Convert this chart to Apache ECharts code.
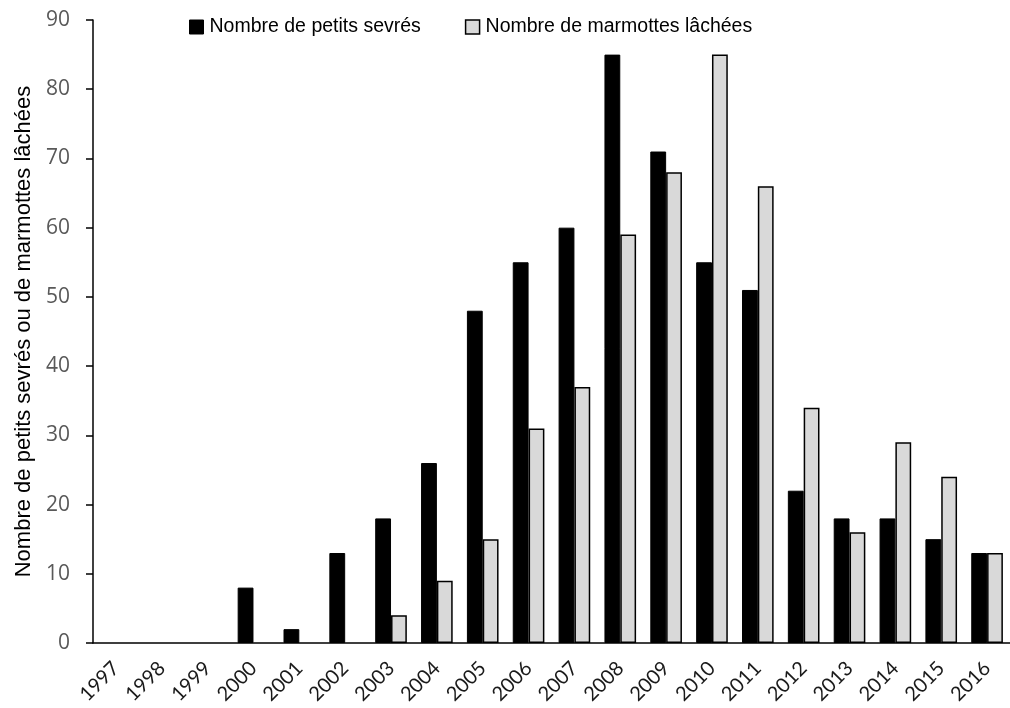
<!DOCTYPE html>
<html>
<head>
<meta charset="utf-8">
<script src="https://cdn.jsdelivr.net/npm/echarts@6/dist/echarts.min.js"></script>
<style>html,body{margin:0;padding:0;background:#fff;}#c{width:1010px;height:708px;}</style>
</head>
<body>
<div id="c"></div>
<script>
const years = ['1997','1998','1999','2000','2001','2002','2003','2004','2005','2006','2007','2008','2009','2010','2011','2012','2013','2014','2015','2016'];
const petitsSevres = [0,0,0,8,2,13,18,26,48,55,60,85,71,55,51,22,18,18,15,13];
const marmottesLachees = [0,0,0,0,0,0,4,9,15,31,37,59,68,85,66,34,16,29,24,13];
const seriesNames = ['Nombre de petits sevrés','Nombre de marmottes lâchées'];
const yAxisTitle = 'Nombre de petits sevrés ou de marmottes lâchées';

// zero counts draw no visible bar
const toBar = v => (v === 0 ? '-' : v);

const chart = echarts.init(document.getElementById('c'), null, {renderer:'canvas'});
chart.setOption({
  animation: false,
  backgroundColor: '#ffffff',
  legend: {
    top: 12, left: 184,
    itemWidth: 14, itemHeight: 14, itemGap: 44,
    textStyle: {fontFamily: 'Liberation Sans, Arial, sans-serif', fontSize: 19.5, color: '#000', padding: [0,0,0,1]},
    data: [
      {name: seriesNames[0], icon: 'rect', itemStyle: {color: '#000', borderColor: '#000', borderWidth: 1}},
      {name: seriesNames[1], icon: 'rect', itemStyle: {color: '#d9d9d9', borderColor: '#000', borderWidth: 1.5}}
    ]
  },
  grid: {left: 93, top: 20, bottom: 65, width: 927, containLabel: false},
  xAxis: {
    type: 'category', data: years,
    axisLine: {show: true, lineStyle: {color: '#000', width: 1.5}},
    axisTick: {show: false},
    axisLabel: {rotate: 45, fontSize: 20, color: '#1a1a1a', fontFamily: 'Lato, Open Sans, sans-serif', margin: 22, interval: 0}
  },
  yAxis: {
    type: 'value', min: 0, max: 90, interval: 10,
    name: yAxisTitle, nameLocation: 'middle', nameGap: 57,
    nameTextStyle: {fontFamily: 'Liberation Sans, Arial, sans-serif', fontSize: 22, color: '#000'},
    axisLine: {show: true, lineStyle: {color: '#000', width: 1.5}},
    axisTick: {show: true, length: 7, lineStyle: {color: '#000', width: 1.5}},
    axisLabel: {fontSize: 21, color: '#595959', fontFamily: 'Open Sans, Liberation Sans, sans-serif', margin: 23},
    splitLine: {show: false}
  },
  series: [
    {name: seriesNames[0], type: 'bar', data: petitsSevres.map(toBar), barGap: '0%', barCategoryGap: '31%',
     itemStyle: {color: '#000', borderColor: '#000', borderWidth: 1}},
    {name: seriesNames[1], type: 'bar', data: marmottesLachees.map(toBar), barGap: '0%', barCategoryGap: '31%',
     itemStyle: {color: '#d9d9d9', borderColor: '#000', borderWidth: 1.5}}
  ]
});
</script>
</body>
</html>
